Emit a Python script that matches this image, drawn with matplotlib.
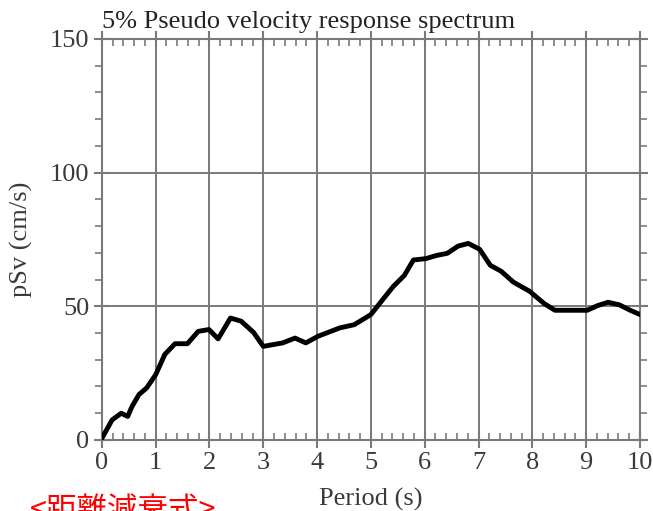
import matplotlib
matplotlib.use('Agg')
import numpy as np
import matplotlib.pyplot as plt
from matplotlib.ticker import MultipleLocator

# Period (s) and pseudo velocity (cm/s)
period = [0.0, 0.19, 0.36, 0.48, 0.56, 0.69, 0.83, 1.0, 1.17, 1.36, 1.59, 1.79,
          1.99, 2.16, 2.39, 2.59, 2.82, 3.0, 3.36, 3.59, 3.79, 4.02, 4.42, 4.69,
          5.0, 5.22, 5.42, 5.62, 5.79, 6.02, 6.22, 6.42, 6.62, 6.81, 7.02, 7.22,
          7.42, 7.65, 7.95, 8.22, 8.42, 9.02, 9.22, 9.41, 9.62, 9.82, 10.0]
psv = [0.6, 7.5, 10.0, 8.8, 12.5, 17.0, 19.4, 24.4, 32.0, 36.0, 36.0, 40.6,
       41.3, 37.8, 45.6, 44.4, 40.2, 35.0, 36.3, 38.1, 36.3, 38.8, 41.9, 43.1,
       46.9, 52.5, 57.5, 61.5, 67.3, 67.8, 69.0, 69.8, 72.5, 73.5, 71.3, 65.3,
       63.1, 59.0, 55.6, 51.0, 48.5, 48.5, 50.3, 51.5, 50.5, 48.5, 46.9]

title = '5% Pseudo velocity response spectrum'
note = '<距離減衰式>'

plt.rcParams['font.family'] = ['Liberation Serif', 'DejaVu Serif']
txt = '#3a3a3a'
gridc = '#7a7a7a'

fig = plt.figure(figsize=(6.53, 5.11), dpi=100)
ax = fig.add_axes([0.156, 0.139, 0.824, 0.785])

ax.plot(period, psv, color='black', lw=3.5, solid_joinstyle='round',
        solid_capstyle='round', zorder=3)

ax.set_xlim(0, 10)
ax.set_ylim(0, 150)
ax.xaxis.set_major_locator(MultipleLocator(1))
ax.xaxis.set_minor_locator(MultipleLocator(0.2))
ax.yaxis.set_major_locator(MultipleLocator(50))
ax.yaxis.set_minor_locator(MultipleLocator(10))

ax.grid(True, which='major', color=gridc, lw=1.4)
for s in ax.spines.values():
    s.set_color(gridc)
    s.set_linewidth(1.5)

ax.tick_params(which='major', direction='inout', length=12, width=1.5, color=gridc,
               labelsize=19, labelcolor=txt, top=True, right=True)
ax.tick_params(axis='x', which='minor', direction='in', length=5, width=1.2,
               color=gridc, top=True)
ax.tick_params(axis='y', which='minor', direction='out', length=5, width=1.2,
               color=gridc, right=True)
ax.tick_params(axis='x', which='major', pad=3)
ax.tick_params(axis='y', which='major', pad=3)

ax.set_xlabel('Period (s)', fontsize=19, color=txt, labelpad=10)
ax.set_ylabel('pSv (cm/s)', fontsize=19, color=txt, labelpad=12)
ax.set_title(title, fontsize=19, color='#222222', loc='left', pad=8)

fig.text(0.045, 0.03, note, color='red', fontsize=22, va='top', ha='left',
         family=['Noto Sans CJK JP', 'DejaVu Sans'])

fig.savefig('out.png', dpi=100)
